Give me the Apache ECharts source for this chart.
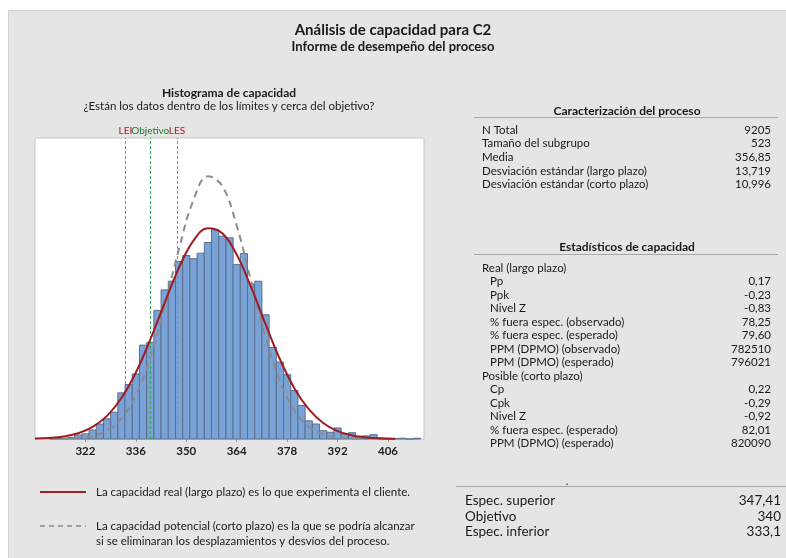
<!DOCTYPE html>
<html>
<head>
<meta charset="utf-8">
<script src="https://cdn.jsdelivr.net/npm/echarts@6/dist/echarts.min.js"></script>
<style>
html,body{margin:0;padding:0;background:#fff;}
#chart{width:786px;height:558px;}
</style>
</head>
<body>
<div id="chart"></div>
<script>
// ---------- data ----------
const mainTitle = 'Análisis de capacidad para C2';
const subTitle = 'Informe de desempeño del proceso';
const histTitle = 'Histograma de capacidad';
const histSubtitle = '¿Están los datos dentro de los límites y cerca del objetivo?';

const binWidth = 2;
const binCenters = [314,316,318,320,322,324,326,328,330,332,334,336,338,340,342,344,346,348,350,352,354,356,358,360,362,364,366,368,370,372,374,376,378,380,382,384,386,388,390,392,394,396,398,400,402,404,406,408,410,412,414];
const binCounts  = [1,2,4,10,13,23,38,51,68,117,138,165,238,245,326,378,400,450,465,457,471,498,531,514,510,442,470,393,400,315,232,195,163,123,85,46,38,21,17,28,12,16,7,8,11,3,2,1,2,0,2];

const longCurveX = [308,312,316,320,324,328,332,336,340,344,348,352,356,360,364,368,372,376,380,384,388,392,396,400,404,408];
const longCurveY = [1,2.6,6.4,14.5,30.5,58.7,103.8,168.7,251.9,345.2,434.7,502.9,534.3,521.4,467.3,384.7,290.9,202.1,128.9,75.5,40.6,20.1,9.1,3.8,1.5,0.5];
const shortCurveX = [312,316,320,324,328,332,336,340,344,348,352,356,360,364,368,372,376,380,384,388,392,396,400];
const shortCurveY = [0.2,0.7,2.4,7.7,21.4,52.0,110.7,206.5,337.4,483.1,606.0,665.9,641.1,540.7,399.4,258.5,146.6,72.8,31.7,12.1,4.0,1.2,0.3];

const xMin = 308, xMax = 416, xInterval = 14, yMax = 763;

const refNames  = ['LEI','Objetivo','LES'];
const refValues = [333.1, 340, 347.41];

const procTitle = 'Caracterización del proceso';
const procLabels = ['N Total','Tamaño del subgrupo','Media','Desviación estándar (largo plazo)','Desviación estándar (corto plazo)'];
const procValues = ['9205','523','356,85','13,719','10,996'];

const capTitle = 'Estadísticos de capacidad';
const capLabels = ['Real (largo plazo)','Pp','Ppk','Nivel Z','% fuera espec. (observado)','% fuera espec. (esperado)','PPM (DPMO) (observado)','PPM (DPMO) (esperado)','Posible (corto plazo)','Cp','Cpk','Nivel Z','% fuera espec. (esperado)','PPM (DPMO) (esperado)'];
const capValues = ['','0,17','-0,23','-0,83','78,25','79,60','782510','796021','','0,22','-0,29','-0,92','82,01','820090'];
const capIndent = [false,true,true,true,true,true,true,true,false,true,true,true,true,true];

const specLabels = ['Espec. superior','Objetivo','Espec. inferior'];
const specValues = ['347,41','340','333,1'];

const legendTexts = ['La capacidad real (largo plazo) es lo que experimenta el cliente.',
  'La capacidad potencial (corto plazo) es la que se podría alcanzar',
  'si se eliminaran los desplazamientos y desvíos del proceso.'];

// ---------- chart ----------
const FONT = 'Lato, "Open Sans", sans-serif';
const chart = echarts.init(document.getElementById('chart'), null, {renderer:'canvas'});

function txt(x, y, text, opt) {
  opt = opt || {};
  return {
    type: 'text', x: x, y: y, z: 10,
    style: {
      text: text,
      fill: opt.color || '#1a1a1a',
      font: (opt.weight || 'normal') + ' ' + (opt.size || 12) + 'px ' + FONT,
      align: opt.align || 'left',
      verticalAlign: 'middle'
    }
  };
}
function hline(x1, x2, y, color, width, dash) {
  return {type:'line', z: 10, shape:{x1:x1, y1:y, x2:x2, y2:y},
    style:{stroke: color, lineWidth: width || 1, lineDash: dash || null}};
}

const graphics = [];
// white margins + panel border
graphics.push({type:'rect', z: 1, shape:{x:0,y:0,width:786,height:10}, style:{fill:'#ffffff'}});
graphics.push({type:'rect', z: 1, shape:{x:0,y:0,width:8,height:558}, style:{fill:'#ffffff'}});
graphics.push({type:'line', z: 2, shape:{x1:8.5,y1:10,x2:8.5,y2:558}, style:{stroke:'#d2d2d2', lineWidth:1}});
graphics.push({type:'line', z: 2, shape:{x1:8,y1:10.5,x2:786,y2:10.5}, style:{stroke:'#d2d2d2', lineWidth:1}});

graphics.push(txt(393, 30, mainTitle, {align:'center', size:15, weight:'bold'}));
graphics.push(txt(393, 47, subTitle, {align:'center', size:13, weight:'bold'}));
graphics.push(txt(229, 93, histTitle, {align:'center', size:12, weight:'bold'}));
graphics.push(txt(229, 106, histSubtitle, {align:'center', size:11.5}));

// process characterization
graphics.push(txt(627, 111, procTitle, {align:'center', size:12, weight:'bold'}));
graphics.push(hline(474, 778, 117.5, '#a8a8a8', 1));
procLabels.forEach((l, i) => {
  const y = 130 + i * 13.6;
  graphics.push(txt(482, y, l, {size:11.5}));
  graphics.push(txt(771, y, procValues[i], {size:11.5, align:'right'}));
});

// capability stats
graphics.push(txt(627, 247, capTitle, {align:'center', size:12, weight:'bold'}));
graphics.push(hline(474, 778, 254.5, '#a8a8a8', 1));
capLabels.forEach((l, i) => {
  const y = 268 + i * 13.5;
  graphics.push(txt(capIndent[i] ? 490 : 482, y, l, {size:11.5}));
  if (capValues[i]) graphics.push(txt(771, y, capValues[i], {size:11.5, align:'right'}));
});

// spec summary
graphics.push(hline(456, 786, 486.5, '#a8a8a8', 1));
graphics.push(txt(567, 481, '.', {align:'center', size:11}));
specLabels.forEach((l, i) => {
  const y = 501 + i * 15.3;
  graphics.push(txt(465, y, l, {size:13.5}));
  graphics.push(txt(781, y, specValues[i], {size:13.5, align:'right'}));
});

// legend
graphics.push(hline(40, 86, 492, '#a31f24', 2));
graphics.push(txt(96, 492, legendTexts[0], {size:11.5}));
graphics.push(hline(40, 86, 526, '#a0a0a0', 2, [5,4]));
graphics.push(txt(96, 526, legendTexts[1], {size:11.5}));
graphics.push(txt(96, 541, legendTexts[2], {size:11.5}));

const option = {
  backgroundColor: '#e5e5e5',
  animation: false,
  textStyle: {fontFamily: FONT},
  grid: {left: 35, top: 138, width: 389, height: 301, show: true, backgroundColor: '#ffffff', borderColor: '#c4c4c4', borderWidth: 1},
  xAxis: {
    type: 'value', min: xMin, max: xMax, interval: xInterval,
    axisLine: {show: false},
    axisTick: {show: true, length: 3, lineStyle: {color: '#9a9a9a'}},
    splitLine: {show: false},
    axisLabel: {
      color: '#222', fontSize: 11.5, fontWeight: 'bold', margin: 6,
      showMinLabel: false, showMaxLabel: false,
      formatter: v => ((v === xMin || v === xMax) ? '' : String(v))
    }
  },
  yAxis: {type: 'value', min: 0, max: yMax, show: false, splitLine: {show: false}},
  graphic: graphics,
  series: [
    {
      type: 'line', data: [], z: 1, silent: true,
      markLine: {
        symbol: 'none', silent: true, animation: false,
        data: refValues.map((v, i) => ({
          xAxis: v,
          lineStyle: {type: [3, 2], width: 1, color: i === 1 ? '#3aa64a' : '#e06a6a'},
          label: {show: true, position: 'end', distance: 2, formatter: refNames[i],
                  color: i === 1 ? '#1f7a2a' : '#a51c24', fontSize: 10, fontFamily: FONT}
        }))
      }
    },
    {
      type: 'custom', z: 3, silent: true,
      data: binCenters.map((c, i) => [c, binCounts[i]]),
      renderItem: function (params, api) {
        const c = api.value(0), h = api.value(1);
        const p0 = api.coord([c - binWidth / 2, h]);
        const p1 = api.coord([c + binWidth / 2, 0]);
        return {
          type: 'rect',
          shape: {x: p0[0], y: p0[1], width: p1[0] - p0[0], height: p1[1] - p0[1]},
          style: {fill: '#79a2d6', stroke: '#5b6f8e', lineWidth: 1}
        };
      }
    },
    {
      type: 'line', z: 5, silent: true, symbol: 'none', smooth: 0.4,
      data: shortCurveX.map((x, i) => [x, shortCurveY[i]]),
      lineStyle: {color: '#8c8c8c', width: 2, type: [7, 5]}
    },
    {
      type: 'line', z: 6, silent: true, symbol: 'none', smooth: 0.4,
      data: longCurveX.map((x, i) => [x, longCurveY[i]]),
      lineStyle: {color: '#a01c20', width: 2}
    }
  ]
};
chart.setOption(option);
</script>
</body>
</html>
